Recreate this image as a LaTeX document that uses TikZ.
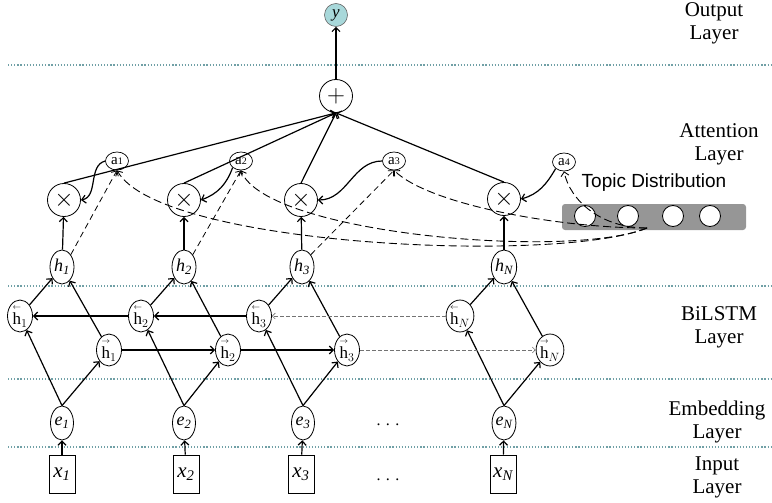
\documentclass[tikz,border=0pt]{standalone}
\usepackage{amsmath}
\usepackage{fontspec}
\setmainfont{Liberation Serif}
\newfontfamily\topicfont{Liberation Sans}
\usetikzlibrary{shapes.geometric,arrows.meta}
\definecolor{sepcol}{RGB}{112,160,166}
\definecolor{outfill}{RGB}{168,216,218}
\definecolor{barfill}{RGB}{150,150,150}
\tikzset{
  tipbarb/.style={-{Straight Barb[length=4pt,width=8pt]}},
  conn/.style={line width=1.2pt, tipbarb},
  dconn/.style={line width=0.8pt, dash pattern=on 6pt off 4pt, tipbarb},
  fconn/.style={line width=0.6pt, black!55, dash pattern=on 4pt off 2pt, -{Straight Barb[length=3pt,width=6pt]}},
  tconn/.style={line width=0.9pt, dash pattern=on 8pt off 4pt, tipbarb},
  opnode/.style={circle, draw, line width=0.8pt, minimum size=33pt, inner sep=0pt, fill=white},
  outnode/.style={circle, draw=black!60, line width=0.6pt, minimum size=23pt, inner sep=0pt, fill=outfill},
  attn/.style={ellipse, draw, line width=0.7pt, minimum width=23pt, minimum height=18pt, inner sep=0pt, fill=white, font=\fontsize{15}{15}\selectfont},
  hcell/.style={ellipse, draw, line width=0.8pt, minimum width=24pt, minimum height=34pt, inner sep=0pt, fill=white, font=\fontsize{18}{18}\selectfont\itshape},
  dircell/.style={ellipse, draw, line width=0.8pt, minimum width=25pt, minimum height=30pt, inner sep=0pt, fill=white, font=\fontsize{17}{17}\selectfont},
  ecell/.style={ellipse, draw, line width=0.8pt, minimum width=23pt, minimum height=34pt, inner sep=0pt, fill=white, font=\fontsize{18}{18}\selectfont\itshape},
  inbox/.style={rectangle, draw, line width=0.8pt, minimum width=26pt, minimum height=38pt, inner sep=0pt, font=\fontsize{21}{21}\selectfont\itshape},
  layersep/.style={sepcol, line width=1.8pt, dash pattern=on 1.2pt off 1.9pt},
  layername/.style={align=center, font=\fontsize{21}{23}\selectfont},
  topiccell/.style={circle, draw, line width=0.8pt, fill=white, minimum size=21pt, inner sep=0pt},
  ellip/.style={font=\fontsize{16}{16}\selectfont}
}
\newcommand{\lsub}[1]{{\fontsize{10}{10}\selectfont #1}}
% direction-marked LSTM state: tiny arrow above an upright h
\newcommand{\bwd}[1]{$\overset{\scriptscriptstyle\leftarrow}{\mathrm{h}}_{#1}$}
\newcommand{\fwd}[1]{$\overset{\scriptscriptstyle\rightarrow}{\mathrm{h}}_{#1}$}
\begin{document}
\begin{tikzpicture}[x=1pt,y=-1pt]
\useasboundingbox (0,0) rectangle (772,503);

% layer separators
\foreach \yy in {65,286,379,447}
  \draw[layersep] (8,\yy) -- (772,\yy);

% layer names
\node[layername] (lout) at (714,23) {Output\\Layer};
\node[layername] (latt) at (719,144) {Attention\\Layer};
\node[layername] (lbil) at (719,327) {BiLSTM\\Layer};
\node[layername] (lemb) at (717,422) {Embedding\\Layer};
\node[layername] (linp) at (717,477) {Input\\Layer};

% output and sum
\node[outnode] (yout) at (336,15) {\fontsize{17}{17}\selectfont\itshape y};
\node[opnode] (plus) at (336,96) {\fontsize{26}{26}\selectfont$+$};

% weighting nodes
\node[opnode] (m1) at (64,200) {\fontsize{26}{26}\selectfont$\times$};
\node[opnode] (m2) at (184,200) {\fontsize{26}{26}\selectfont$\times$};
\node[opnode] (m3) at (301,200) {\fontsize{26}{26}\selectfont$\times$};
\node[opnode] (mN) at (504,199) {\fontsize{26}{26}\selectfont$\times$};

% attention weights
\node[attn] (a1) at (117,161) {a\lsub{1}};
\node[attn] (a2) at (241,161) {a\lsub{2}};
\node[attn] (a3) at (394,161) {a\lsub{3}};
\node[attn] (a4) at (564,162) {a\lsub{4}};

% topic distribution
\node[font=\fontsize{19}{19}\selectfont] (tdlabel) at (654,183) {\topicfont Topic Distribution};
\node[rectangle, rounded corners=3pt, fill=barfill, minimum width=184pt, minimum height=26pt, inner sep=0pt] (topic) at (654,217) {};
\node[topiccell] (tc1) at (585,216) {};
\node[topiccell] (tc2) at (628,216) {};
\node[topiccell] (tc3) at (673,216) {};
\node[topiccell] (tc4) at (710,216) {};
\coordinate (tp) at (647,228);

% hidden states
\node[hcell] (h1) at (62,267) {h\textsubscript{1}};
\node[hcell] (h2) at (184,267) {h\textsubscript{2}};
\node[hcell] (h3) at (302,267) {h\textsubscript{3}};
\node[hcell] (hN) at (504,267) {h\textsubscript{N}};

% backward cells
\node[dircell] (hb1) at (20,316) {\bwd{1}};
\node[dircell] (hb2) at (141,316) {\bwd{2}};
\node[dircell] (hb3) at (259,316) {\bwd{3}};
\node[dircell] (hbN) at (460,316) {\bwd{N}};

% forward cells
\node[dircell] (hf1) at (109,350) {\fwd{1}};
\node[dircell] (hf2) at (228,350) {\fwd{2}};
\node[dircell] (hf3) at (347,350) {\fwd{3}};
\node[dircell] (hfN) at (550,350) {\fwd{N}};

% embeddings
\node[ecell] (e1) at (62,423) {e\textsubscript{1}};
\node[ecell] (e2) at (184,423) {e\textsubscript{2}};
\node[ecell] (e3) at (303,423) {e\textsubscript{3}};
\node[ecell] (eN) at (504,423) {e\textsubscript{N}};

% inputs
\node[inbox] (x1) at (62,474) {x\textsubscript{1}};
\node[inbox] (x2) at (186,474) {x\textsubscript{2}};
\node[inbox] (x3) at (301,474) {x\textsubscript{3}};
\node[inbox] (xN) at (503,474) {x\textsubscript{N}};

\node[ellip] (dots1) at (388,425) {.\,\,.\,\,.};
\node[ellip] (dots2) at (388,480) {.\,\,.\,\,.};

% topic links into the attention weights
\draw[tconn] (tp) .. controls (560,264) and (160,247) .. (a1.south);
\draw[tconn] (tp) .. controls (570,260) and (265,234) .. (a2.south);
\draw[tconn] (tp) .. controls (560,228) and (430,205) .. (a3.south);
\draw[tconn] (tp) .. controls (600,228) and (570,200) .. (a4.south);

% hidden state to weight
\draw[dconn] (h1.north east) -- (a1.south);
\draw[dconn] (h2.north east) -- (a2.south);
\draw[dconn] (h3.north east) -- (a3.south);

% weights applied
\draw[conn] (a1.west) to[out=195,in=10] (m1.east);
\draw[conn] (a2.south west) to[out=250,in=20] (m2.east);
\draw[conn] (a3.west) to[out=180,in=0] (m3.east);
\draw[conn] (a4.south west) to[out=240,in=15] (mN.east);

% states into weighting
\draw[conn] (h1) -- (m1);
\draw[conn] (h2) -- (m2);
\draw[conn] (h3) -- (m3);
\draw[conn] (hN) -- (mN);

% sum and output
\foreach \m in {m1,m2,m3,mN}
  \draw[conn] (\m.north) -- (plus.south);
\draw[conn] (plus) -- (yout);

% BiLSTM
\foreach \c in {1,2,3,N} {
  \draw[conn] (e\c.north) -- (hb\c);
  \draw[conn] (e\c.north) -- (hf\c);
  \draw[conn] (hb\c) -- (h\c);
  \draw[conn] (hf\c) -- (h\c);
  \draw[conn] (x\c) -- (e\c);
}
\draw[conn] (hb2) -- (hb1);
\draw[conn] (hb3) -- (hb2);
\draw[fconn] (hbN) -- (hb3);
\draw[conn] (hf1) -- (hf2);
\draw[conn] (hf2) -- (hf3);
\draw[fconn] (hf3) -- (hfN);
\end{tikzpicture}
\end{document}
